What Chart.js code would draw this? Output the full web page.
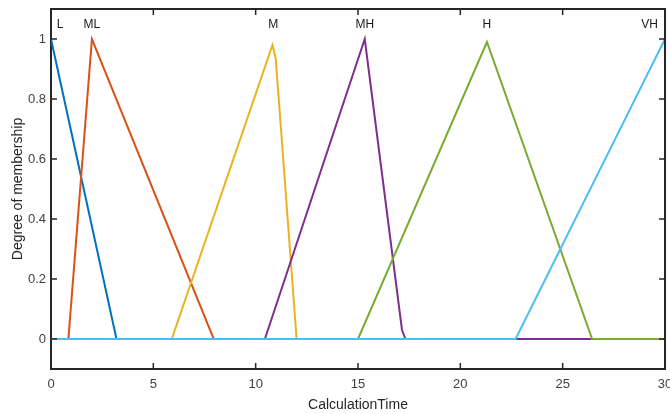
<!DOCTYPE html>
<html>
<head>
<meta charset="utf-8">
<script src="https://cdn.jsdelivr.net/npm/chart.js@4.4.1/dist/chart.umd.min.js"></script>
<style>
  html, body { margin: 0; padding: 0; background: #fff; }
  #wrap { position: relative; width: 670px; height: 414px; }
</style>
</head>
<body>
<div id="wrap"><canvas id="chart"></canvas></div>
<script>
// membership functions (x = calculation time, y = degree of membership)
const lX  = [0, 3.2, 30];
const lY  = [1, 0, 0];
const mlX = [0, 0.85, 2.0, 7.95, 30];
const mlY = [0, 0, 1, 0, 0];
const mX  = [0, 5.9, 10.82, 10.98, 12.0, 30];
const mY  = [0, 0, 0.98, 0.935, 0, 0];
const mhX = [0, 10.45, 15.33, 17.15, 17.32, 30];
const mhY = [0, 0, 1, 0.03, 0, 0];
const hX  = [0, 15.0, 21.3, 26.44, 30];
const hY  = [0, 0, 0.99, 0, 0];
const vhX = [0, 22.7, 30];
const vhY = [0, 0, 1];

const seriesNames  = ['L', 'ML', 'M', 'MH', 'H', 'VH'];
const seriesColors = ['#0072BD', '#D95319', '#EDB120', '#7E2F8E', '#77AC30', '#4DBEEE'];
const seriesX = [lX, mlX, mX, mhX, hX, vhX];
const seriesY = [lY, mlY, mY, mhY, hY, vhY];

// text labels above each peak
const labelX = [0.45, 2.0, 10.86, 15.33, 21.3, 29.25];
const labelY = [1.047, 1.047, 1.047, 1.047, 1.047, 1.047];

const xTicks = [0, 5, 10, 15, 20, 25, 30];
const yTicks = [0, 0.2, 0.4, 0.6, 0.8, 1];

const FONT = '"Liberation Sans", Arial, sans-serif';
const AXIS = '#262626';

// later series are plotted on top (as in the original)
const datasets = seriesNames.map((name, i) => ({
    label: name,
    data: seriesX[i].map((x, j) => ({ x: x, y: seriesY[i][j] })),
    borderColor: seriesColors[i],
    backgroundColor: seriesColors[i],
    borderWidth: 2,
    pointRadius: 0,
    tension: 0,
    fill: false,
    order: seriesNames.length - 1 - i
}));

// box + inward tick marks + peak labels
const boxPlugin = {
    id: 'box',
    afterDraw(chart) {
        const { ctx, chartArea: a, scales: { x, y } } = chart;
        ctx.save();
        ctx.strokeStyle = AXIS;
        ctx.lineWidth = 2;
        ctx.beginPath();
        ctx.moveTo(a.left, a.top); ctx.lineTo(a.right, a.top); ctx.lineTo(a.right, a.bottom);
        ctx.stroke();
        ctx.lineWidth = 1.5;
        ctx.beginPath();
        xTicks.forEach(v => {
            const px = x.getPixelForValue(v);
            ctx.moveTo(px, a.bottom); ctx.lineTo(px, a.bottom - 6);
            ctx.moveTo(px, a.top); ctx.lineTo(px, a.top + 6);
        });
        yTicks.forEach(v => {
            const py = y.getPixelForValue(v);
            ctx.moveTo(a.left, py); ctx.lineTo(a.left + 6, py);
            ctx.moveTo(a.right, py); ctx.lineTo(a.right - 6, py);
        });
        ctx.stroke();

        ctx.fillStyle = '#1a1a1a';
        ctx.font = '12px ' + FONT;
        ctx.textAlign = 'center';
        ctx.textBaseline = 'middle';
        seriesNames.forEach((n, i) => {
            ctx.fillText(n, x.getPixelForValue(labelX[i]), y.getPixelForValue(labelY[i]));
        });
        ctx.restore();
    }
};

new Chart(document.getElementById('chart'), {
    type: 'line',
    data: { datasets },
    plugins: [boxPlugin],
    options: {
        responsive: true,
        maintainAspectRatio: false,
        animation: false,
        layout: { padding: { top: 9, right: 5, left: 0, bottom: 0 } },
        plugins: { legend: { display: false }, tooltip: { enabled: false } },
        scales: {
            x: {
                type: 'linear',
                min: 0, max: 30,
                afterBuildTicks: s => { s.ticks = xTicks.map(v => ({ value: v })); },
                afterFit: s => { s.height = 45; s.paddingRight = 0; s.paddingLeft = 0; },
                grid: { drawOnChartArea: false, drawTicks: false },
                border: { color: AXIS, width: 2 },
                ticks: { color: '#404040', padding: 8, maxRotation: 0, font: { family: FONT, size: 13 } },
                title: { display: true, text: 'CalculationTime', color: '#262626', padding: { top: 0, bottom: 0 }, font: { family: FONT, size: 14 } }
            },
            y: {
                min: -0.1, max: 1.1,
                afterBuildTicks: s => { s.ticks = yTicks.map(v => ({ value: v })); },
                afterFit: s => { s.width = 51; s.paddingTop = 0; s.paddingBottom = 0; },
                grid: { drawOnChartArea: false, drawTicks: false },
                border: { color: AXIS, width: 2 },
                ticks: {
                    color: '#404040', padding: 5, font: { family: FONT, size: 13 },
                    callback: v => String(Math.round(v * 10) / 10)
                },
                title: { display: true, text: 'Degree of membership', color: '#262626', padding: { top: 10, bottom: 0 }, font: { family: FONT, size: 14 } }
            }
        }
    }
});
</script>
</body>
</html>
